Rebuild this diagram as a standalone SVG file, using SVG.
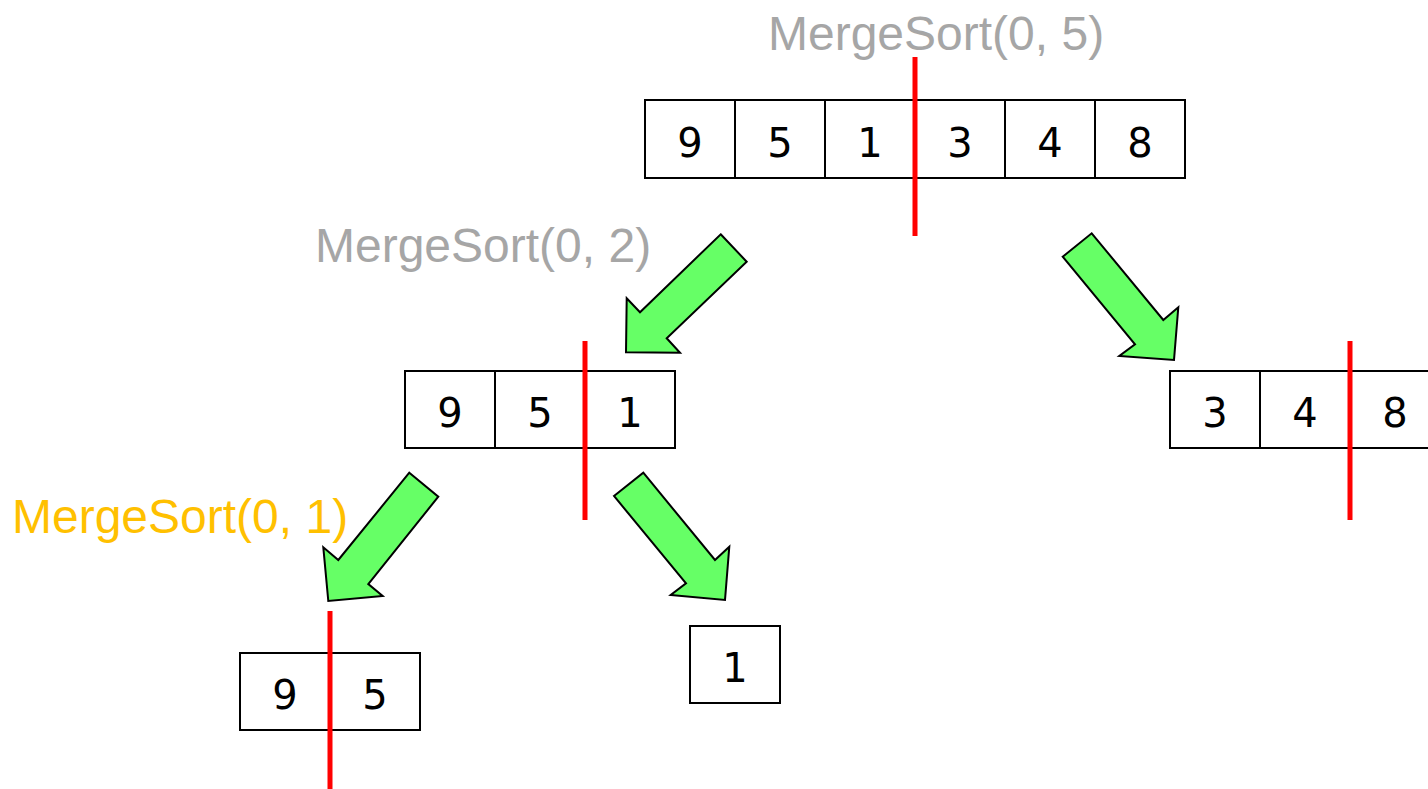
<svg xmlns="http://www.w3.org/2000/svg" width="1428" height="789" viewBox="0 0 1428 789">
<style>
.cell{fill:#fff;stroke:#000;stroke-width:2}
.num{font-family:"DejaVu Sans",sans-serif;font-size:40px;fill:#000;text-anchor:middle}
.lbl{font-family:"Liberation Sans",Arial,sans-serif;font-size:48px}
.gray{fill:#a6a6a6}
.orange{fill:#ffc000}
.split{stroke:#ff0000;stroke-width:5}
.arrow{fill:#66ff66;stroke:#000;stroke-width:2;stroke-linejoin:miter}
</style>
<rect width="1428" height="789" fill="#fff"/>
<g id="top">
<rect class="cell" x="645" y="100" width="90" height="78"/>
<rect class="cell" x="735" y="100" width="90" height="78"/>
<rect class="cell" x="825" y="100" width="90" height="78"/>
<rect class="cell" x="915" y="100" width="90" height="78"/>
<rect class="cell" x="1005" y="100" width="90" height="78"/>
<rect class="cell" x="1095" y="100" width="90" height="78"/>
<text class="num" x="690" y="157">9</text>
<text class="num" x="780" y="157">5</text>
<text class="num" x="870" y="157">1</text>
<text class="num" x="960" y="157">3</text>
<text class="num" x="1050" y="157">4</text>
<text class="num" x="1140" y="157">8</text>
<text class="lbl gray" x="768" y="50">MergeSort(0, 5)</text>
<line class="split" x1="915" y1="57" x2="915" y2="236"/>
</g>
<g id="mid-left">
<rect class="cell" x="405" y="371" width="90" height="77"/>
<rect class="cell" x="495" y="371" width="90" height="77"/>
<rect class="cell" x="585" y="371" width="90" height="77"/>
<text class="num" x="450" y="427">9</text>
<text class="num" x="540" y="427">5</text>
<text class="num" x="630" y="427">1</text>
<text class="lbl gray" x="315" y="262">MergeSort(0, 2)</text>
<line class="split" x1="585" y1="341" x2="585" y2="520"/>
</g>
<g id="mid-right">
<rect class="cell" x="1170" y="371" width="90" height="77"/>
<rect class="cell" x="1260" y="371" width="90" height="77"/>
<rect class="cell" x="1350" y="371" width="90" height="77"/>
<text class="num" x="1215" y="427">3</text>
<text class="num" x="1305" y="427">4</text>
<text class="num" x="1395" y="427">8</text>
<line class="split" x1="1350" y1="341" x2="1350" y2="520"/>
</g>
<g id="bottom-left">
<rect class="cell" x="240" y="653" width="90" height="77"/>
<rect class="cell" x="330" y="653" width="90" height="77"/>
<text class="num" x="285" y="709">9</text>
<text class="num" x="375" y="709">5</text>
<text class="lbl orange" x="12" y="533">MergeSort(0, 1)</text>
<line class="split" x1="330" y1="611" x2="330" y2="789"/>
</g>
<g id="bottom-single">
<rect class="cell" x="690" y="626" width="90" height="77"/>
<text class="num" x="735" y="682">1</text>
</g>
<g id="connectors">
<polygon class="arrow" points="720.7,234.3 746.7,261.7 666.7,338.3 680,352.7 626,352.3 626.7,298.3 640,312.3"/>
<polygon class="arrow" points="1062.7,256.7 1091.7,233.3 1163.3,320 1178.3,307.3 1174,360 1119.3,356 1135,344.3"/>
<polygon class="arrow" points="409.3,472.7 438.3,496.7 368.3,584 382.7,596 328.3,601 323.3,547.3 338.3,560"/>
<polygon class="arrow" points="614,496 643.3,472.7 715,560 729.3,546.7 725,600 670.7,595 686,583.3"/>
</g>
</svg>
